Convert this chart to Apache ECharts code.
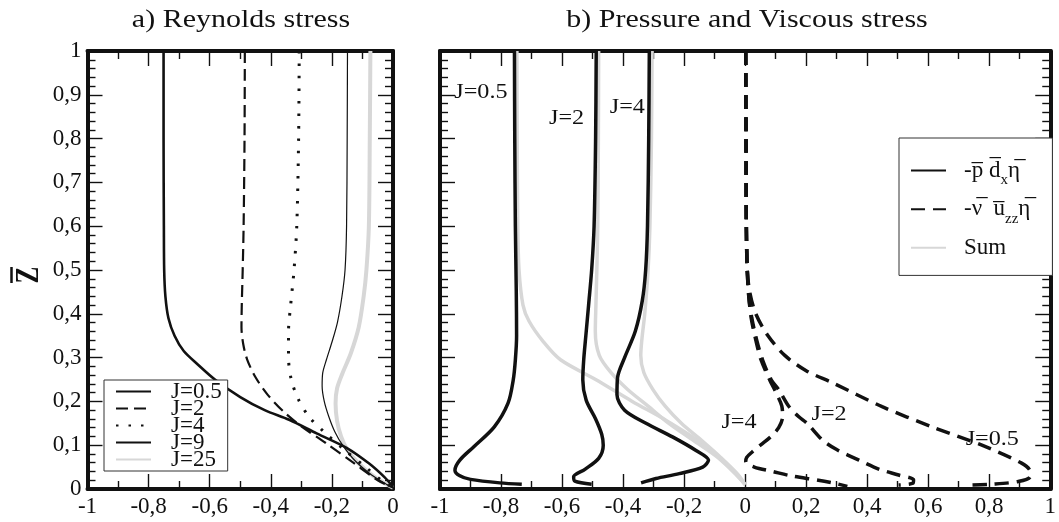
<!DOCTYPE html>
<html>
<head>
<meta charset="utf-8">
<script src="https://cdn.jsdelivr.net/npm/echarts@6/dist/echarts.min.js"></script>
<style>
  html, body { margin: 0; padding: 0; background: #fff; }
  #chart { width: 1059px; height: 522px; }
</style>
</head>
<body>
<div id="chart"></div>
<script>
// ---- Reynolds stress profiles, points are [stress, z] ----
const reyJ05 = [[-0.751,1],[-0.751,0.8],[-0.75,0.6],[-0.749,0.5],[-0.745,0.44],[-0.735,0.39],[-0.715,0.35],[-0.685,0.315],[-0.64,0.285],[-0.583,0.25],[-0.5,0.21],[-0.42,0.18],[-0.34,0.158],[-0.25,0.127],[-0.152,0.094],[-0.078,0.058],[-0.028,0.027],[0,0.005]];
const reyJ2  = [[-0.485,1],[-0.486,0.8],[-0.489,0.6],[-0.492,0.5],[-0.495,0.42],[-0.496,0.37],[-0.49,0.33],[-0.477,0.295],[-0.45,0.255],[-0.41,0.215],[-0.36,0.178],[-0.3,0.143],[-0.22,0.105],[-0.13,0.06],[-0.05,0.02],[0,0.003]];
const reyJ4  = [[-0.307,1],[-0.309,0.8],[-0.315,0.6],[-0.324,0.5],[-0.335,0.42],[-0.342,0.36],[-0.342,0.3],[-0.333,0.25],[-0.31,0.205],[-0.275,0.165],[-0.225,0.13],[-0.16,0.09],[-0.09,0.05],[-0.035,0.018],[0,0.003]];
const reyJ9  = [[-0.149,1],[-0.15,0.8],[-0.152,0.6],[-0.157,0.5],[-0.167,0.44],[-0.182,0.38],[-0.2,0.335],[-0.218,0.295],[-0.23,0.265],[-0.232,0.235],[-0.225,0.2],[-0.21,0.165],[-0.19,0.13],[-0.165,0.1],[-0.125,0.065],[-0.07,0.032],[-0.02,0.01],[0,0.003]];
const reyJ25 = [[-0.074,1],[-0.076,0.8],[-0.079,0.6],[-0.087,0.5],[-0.096,0.44],[-0.112,0.37],[-0.138,0.31],[-0.165,0.265],[-0.183,0.23],[-0.188,0.195],[-0.183,0.155],[-0.17,0.12],[-0.15,0.09],[-0.115,0.06],[-0.065,0.03],[-0.02,0.01],[0,0.003]];

// ---- Pressure term -p d_x eta ----
const presJ05 = [[-0.756,1],[-0.755,0.8],[-0.753,0.6],[-0.75,0.45],[-0.749,0.35],[-0.753,0.295],[-0.76,0.249],[-0.777,0.196],[-0.822,0.142],[-0.89,0.096],[-0.935,0.066],[-0.951,0.043],[-0.935,0.03],[-0.9,0.022],[-0.804,0.014],[-0.732,0.011]];
const presJ2  = [[-0.488,1],[-0.49,0.8],[-0.495,0.6],[-0.503,0.5],[-0.513,0.42],[-0.522,0.35],[-0.529,0.295],[-0.532,0.249],[-0.521,0.203],[-0.49,0.16],[-0.47,0.125],[-0.465,0.1],[-0.48,0.07],[-0.525,0.045],[-0.562,0.028],[-0.558,0.018],[-0.503,0.011]];
const presJ4  = [[-0.314,1],[-0.316,0.8],[-0.32,0.6],[-0.326,0.5],[-0.337,0.43],[-0.36,0.36],[-0.395,0.3],[-0.418,0.255],[-0.42,0.215],[-0.395,0.18],[-0.325,0.15],[-0.238,0.119],[-0.161,0.088],[-0.12,0.066],[-0.139,0.05],[-0.216,0.035],[-0.292,0.024],[-0.341,0.014]];

// ---- Viscous term -nu u_zz eta ----
const viscJ05 = [[0.002,1],[0.003,0.8],[0.004,0.6],[0.007,0.5],[0.015,0.45],[0.035,0.4],[0.075,0.35],[0.13,0.305],[0.2,0.27],[0.285,0.243],[0.449,0.188],[0.612,0.142],[0.776,0.1],[0.906,0.059],[0.934,0.04],[0.934,0.028],[0.895,0.017],[0.808,0.011],[0.732,0.009]];
const viscJ2  = [[0.002,1],[0.003,0.8],[0.004,0.6],[0.007,0.5],[0.012,0.44],[0.022,0.39],[0.038,0.34],[0.057,0.295],[0.085,0.25],[0.111,0.226],[0.143,0.189],[0.176,0.165],[0.203,0.15],[0.253,0.112],[0.3,0.09],[0.373,0.066],[0.44,0.045],[0.503,0.032],[0.552,0.021],[0.55,0.013],[0.503,0.009]];
const viscJ4  = [[0.002,1],[0.003,0.8],[0.004,0.6],[0.007,0.5],[0.012,0.44],[0.02,0.39],[0.035,0.34],[0.052,0.295],[0.08,0.25],[0.105,0.215],[0.12,0.19],[0.123,0.165],[0.11,0.14],[0.085,0.12],[0.05,0.1],[0.024,0.085],[0.005,0.072],[0.002,0.062],[0.03,0.05],[0.09,0.04],[0.15,0.03],[0.24,0.02],[0.3,0.012],[0.335,0.006]];

// ---- Sum of both terms ----
const sumJ05 = [[-0.748,1],[-0.747,0.8],[-0.745,0.6],[-0.741,0.5],[-0.728,0.42],[-0.708,0.383],[-0.661,0.336],[-0.605,0.295],[-0.49,0.25],[-0.37,0.2],[-0.262,0.158],[-0.156,0.111],[-0.05,0.049],[0,0.01]];
const sumJ2  = [[-0.48,1],[-0.481,0.8],[-0.483,0.6],[-0.486,0.5],[-0.489,0.42],[-0.491,0.36],[-0.478,0.305],[-0.44,0.266],[-0.385,0.227],[-0.318,0.189],[-0.25,0.15],[-0.17,0.111],[-0.09,0.072],[-0.03,0.033],[0,0.01]];
const sumJ4  = [[-0.305,1],[-0.307,0.8],[-0.312,0.6],[-0.318,0.5],[-0.329,0.4],[-0.338,0.344],[-0.342,0.305],[-0.332,0.266],[-0.302,0.227],[-0.262,0.189],[-0.209,0.15],[-0.143,0.111],[-0.08,0.072],[-0.023,0.033],[0,0.01]];

// ---- Legend entries and in-panel curve labels ----
const reyNames = ['J=0.5', 'J=2', 'J=4', 'J=9', 'J=25'];
const termNames = ['P', 'V', 'S'];
const curveLabels = [
  { text: 'J=0.5', at: [-0.866, 0.906] },
  { text: 'J=2',   at: [-0.585, 0.845] },
  { text: 'J=4',   at: [-0.386, 0.872] },
  { text: 'J=4',   at: [-0.02, 0.151] },
  { text: 'J=2',   at: [0.275, 0.171] },
  { text: 'J=0.5', at: [0.81, 0.112] }
];

const serif = '"Liberation Serif", "Times New Roman", Tinos, serif';
const ink = '#111';
const pale = '#d7d7d7';
const OV = '\u0305';

function tickText(v) {
  return String(Math.round(v * 10) / 10).replace('.', ',');
}

function axis(gridIndex, position, min, max, interval, minorSplit, showLabel) {
  return {
    type: 'value', gridIndex, position, min, max, interval,
    axisLine: { show: true, onZero: false, lineStyle: { color: ink, width: 4 } },
    axisTick: { show: true, inside: true, length: 15, lineStyle: { color: ink, width: 1.4 } },
    minorTick: { show: true, splitNumber: minorSplit, length: 8, lineStyle: { color: ink, width: 1.4 } },
    splitLine: { show: false },
    minorSplitLine: { show: false },
    axisLabel: {
      show: showLabel, formatter: tickText, fontFamily: serif, fontSize: 23,
      color: ink, margin: 6, showMinLabel: true, showMaxLabel: true
    }
  };
}

function curve(name, data, g, lineStyle) {
  return {
    type: 'line', name, data, xAxisIndex: g * 2, yAxisIndex: g * 2,
    symbol: 'none', smooth: 0.3, silent: true, color: lineStyle.color,
    itemStyle: { color: lineStyle.color }, lineStyle
  };
}

const solid = (w, c) => ({ color: c || ink, width: w, type: 'solid' });

const legendRich = {
  m: { fontFamily: serif, fontSize: 23, color: ink, lineHeight: 34 },
  s: { fontFamily: serif, fontSize: 15, color: ink, lineHeight: 15, verticalAlign: 'bottom' }
};
const termLabel = {
  P: '{m|-p' + OV + ' d' + OV + '}{s|x}{m|η' + OV + '}',
  V: '{m|-ν' + OV + '  u' + OV + '}{s|zz}{m|η' + OV + '}',
  S: '{m|Sum}'
};
// legend keeps only the line sample, no marker dot
const hiddenMarker = { color: 'rgba(0,0,0,0)', borderWidth: 0, opacity: 0 };

const chart = echarts.init(document.getElementById('chart'), null, { renderer: 'canvas' });

chart.setOption({
  animation: false,
  backgroundColor: '#fff',
  grid: [
    { left: 87.5, top: 51, width: 305.5, height: 438 },
    { left: 440, top: 51, width: 612, height: 438 }
  ],
  xAxis: [
    axis(0, 'bottom', -1, 0, 0.2, 2, true),
    axis(0, 'top', -1, 0, 0.2, 2, false),
    axis(1, 'bottom', -1, 1, 0.2, 2, true),
    axis(1, 'top', -1, 1, 0.2, 2, false)
  ],
  yAxis: [
    axis(0, 'left', 0, 1, 0.1, 5, true),
    axis(0, 'right', 0, 1, 0.1, 5, false),
    axis(1, 'left', 0, 1, 0.1, 5, false),
    axis(1, 'right', 0, 1, 0.1, 5, false)
  ],
  legend: [
    {
      data: reyNames, orient: 'vertical', left: 104, top: 380,
      itemWidth: 35, itemHeight: 17, itemGap: -6, padding: [0, 6, 0, 11],
      borderColor: '#333', borderWidth: 1, backgroundColor: '#fff',
      selectedMode: false, itemStyle: hiddenMarker,
      textStyle: { fontFamily: serif, fontSize: 23, color: ink, padding: [0, 0, 0, 15] }
    },
    {
      data: termNames, orient: 'vertical', left: 899, top: 138,
      itemWidth: 35, itemHeight: 34, itemGap: 8, padding: [19, 22, 14, 11],
      borderColor: '#333', borderWidth: 1, backgroundColor: '#fff',
      selectedMode: false, itemStyle: hiddenMarker,
      formatter: n => termLabel[n],
      textStyle: { fontFamily: serif, fontSize: 23, color: ink, padding: [0, 0, 0, 13], rich: legendRich }
    }
  ],
  series: [
    curve('J=25', reyJ25, 0, solid(4, pale)),
    curve('J=9', reyJ9, 0, solid(1.2)),
    curve('J=4', reyJ4, 0, { color: ink, width: 3, type: [2.5, 10] }),
    curve('J=2', reyJ2, 0, { color: ink, width: 2.2, type: [12, 6] }),
    curve('J=0.5', reyJ05, 0, solid(2.6)),

    curve('S', sumJ05, 1, solid(3.5, pale)),
    curve('S', sumJ2, 1, solid(3.5, pale)),
    curve('S', sumJ4, 1, solid(3.5, pale)),
    curve('P', presJ05, 1, solid(3.5)),
    curve('P', presJ2, 1, solid(3.5)),
    curve('P', presJ4, 1, solid(3.5)),
    curve('V', viscJ05, 1, { color: ink, width: 3.5, type: [14, 8] }),
    curve('V', viscJ2, 1, { color: ink, width: 3.5, type: [14, 8] }),
    curve('V', viscJ4, 1, { color: ink, width: 3.5, type: [14, 8] })
  ]
});

// Panel titles, the rotated axis name and the curve labels of panel b
const elements = [
  { type: 'text', x: 241, y: 20, scaleX: 1.2,
    style: { text: 'a) Reynolds stress', font: '25px ' + serif, fill: ink, align: 'center', verticalAlign: 'middle' } },
  { type: 'text', x: 747, y: 20, scaleX: 1.2,
    style: { text: 'b) Pressure and Viscous stress', font: '25px ' + serif, fill: ink, align: 'center', verticalAlign: 'middle' } },
  { type: 'text', x: 29, y: 275, rotation: Math.PI / 2, scaleX: 0.9, scaleY: 1.2,
    style: { text: 'Z', font: 'bold 28px ' + serif, fill: ink, align: 'center', verticalAlign: 'middle' } },
  { type: 'line', shape: { x1: 11.5, y1: 267, x2: 11.5, y2: 283 }, style: { stroke: ink, lineWidth: 2.5 } }
];
curveLabels.forEach(l => {
  const p = chart.convertToPixel({ xAxisIndex: 2, yAxisIndex: 2 }, l.at);
  elements.push({
    type: 'text', x: p[0], y: p[1], scaleX: 1.15, z: 100,
    style: { text: l.text, font: '21px ' + serif, fill: ink, align: 'center', verticalAlign: 'middle' }
  });
});
chart.setOption({ graphic: { elements } });
</script>
</body>
</html>
